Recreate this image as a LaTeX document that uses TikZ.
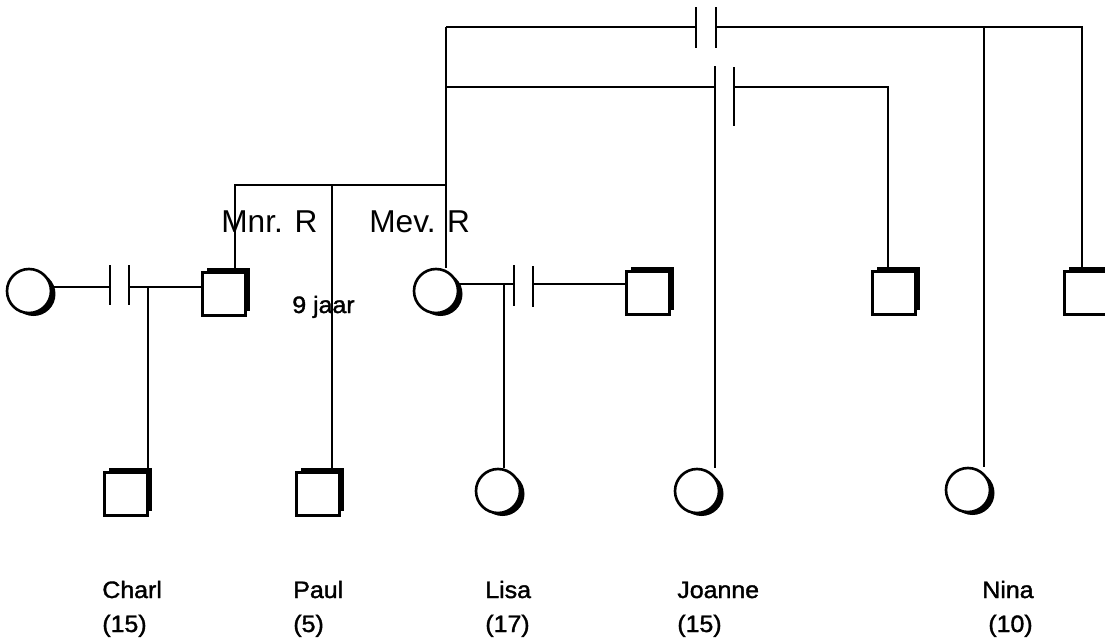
\documentclass[tikz,border=0pt]{standalone}
\usepackage{fontspec}
\setmainfont{Liberation Sans}
\newfontfamily\kidfont[FakeStretch=1.05, FakeBold=1.5]{Liberation Sans}
\usepackage{tikz}
\usetikzlibrary{shadows}
\tikzset{
    male_box/.style={
        rectangle, draw=black, fill=white, line width=1.3pt,
        minimum size=0.86cm, inner sep=0pt,
        drop shadow={fill=black, opacity=1, shadow xshift=0.09cm, shadow yshift=0.09cm}
    },
    female_disc/.style={
        circle, draw=black, fill=white, line width=1.5pt,
        minimum size=0.88cm, inner sep=0pt,
        drop shadow={fill=black, opacity=1, shadow xshift=0.09cm, shadow yshift=-0.06cm}
    },
    kin_line/.style={
        draw=black, line width=1.4pt
    },
    parent_lbl/.style={
        anchor=base west, inner sep=0pt, font=\fontsize{18}{22}\selectfont
    },
    kid_lbl/.style={
        anchor=base west, inner sep=0pt, font=\kidfont\fontsize{13.5}{16}\selectfont
    }
}
\begin{document}
\begin{tikzpicture}[x=0.02cm, y=-0.02cm]
    \useasboundingbox (0,0) rectangle (1105,643);

    % Row 1: parents and partners
    \node[female_disc] (ex_wife) at (29,291) {};
    \node[male_box] (mnr_r) at (224,294) {};
    \node[female_disc] (mev_r) at (436,291) {};
    \node[male_box] (ex_husband) at (648,293) {};
    \node[male_box] (partner_a) at (894,293) {};
    \node[male_box] (partner_b) at (1086,293) {};

    % Row 2: children
    \node[male_box] (charl) at (126,494) {};
    \node[male_box] (paul) at (318,494) {};
    \node[female_disc] (lisa) at (498,491) {};
    \node[female_disc] (joanne) at (697,491) {};
    \node[female_disc] (nina) at (968,490) {};

    % Junction points
    \coordinate (top_l) at (446,27);
    \coordinate (top_r) at (1082,27);
    \coordinate (mid_l) at (446,87);
    \coordinate (mid_r) at (888,87);
    \coordinate (sib_l) at (235,185);
    \coordinate (sib_r) at (446,185);
    \coordinate (paul_up) at (332,185);
    \coordinate (nina_up) at (984,27);
    \coordinate (joanne_up) at (715,66);
    \coordinate (bar1a) at (110,287);
    \coordinate (bar1b) at (129,287);
    \coordinate (charl_up) at (148,287);
    \coordinate (bar2a) at (514,284);
    \coordinate (bar2b) at (533,284);
    \coordinate (lisa_up) at (504,284);
    \coordinate (bar3a) at (696,27);
    \coordinate (bar3b) at (716,27);
    \coordinate (bar4b) at (734,87);

    % Left couple, divorced, with Charl
    \draw[kin_line] (ex_wife.east |- bar1a) -- (bar1a);
    \draw[kin_line] (bar1a) +(0,-22) -- +(0,18);
    \draw[kin_line] (bar1b) +(0,-22) -- +(0,18);
    \draw[kin_line] (bar1b) -- (mnr_r.west |- bar1b);
    \draw[kin_line] (charl_up) -- (charl_up |- charl.north);

    % Sibship of Mnr. R, Paul and Mev. R
    \draw[kin_line] (sib_l |- mnr_r.north) -- (sib_l) -- (sib_r);
    \draw[kin_line] (paul_up) -- (paul_up |- paul.north);
    \draw[kin_line] (top_l) -- (top_l |- mev_r.north);

    % Mev. R couple, divorced, with Lisa
    \draw[kin_line] (mev_r.east |- bar2a) -- (bar2a);
    \draw[kin_line] (bar2a) +(0,-19) -- +(0,22);
    \draw[kin_line] (bar2b) +(0,-18) -- +(0,23);
    \draw[kin_line] (bar2b) -- (ex_husband.west |- bar2b);
    \draw[kin_line] (lisa_up) -- (lisa_up |- lisa.north);

    % Upper line to partner b, with Nina
    \draw[kin_line] (top_l) -- (bar3a);
    \draw[kin_line] (bar3a) +(0,-20) -- +(0,21);
    \draw[kin_line] (bar3b) +(0,-20) -- +(0,21);
    \draw[kin_line] (bar3b) -- (top_r) -- (top_r |- partner_b.north);
    \draw[kin_line] (nina_up) -- (nina_up |- nina.north);

    % Second line to partner a, with Joanne
    \draw[kin_line] (mid_l) -- (mid_l -| joanne_up);
    \draw[kin_line] (joanne_up) -- (joanne_up |- joanne.north);
    \draw[kin_line] (bar4b) +(0,-20) -- +(0,39);
    \draw[kin_line] (bar4b) -- (mid_r) -- (mid_r |- partner_a.north);

    % Labels
    \node[parent_lbl] (lbl_mnr) at (221,232) {Mnr. R};
    \node[parent_lbl] (lbl_mev) at (369,232) {Mev. R};
    \node[kid_lbl] (lbl_gap) at (292,313) {9 jaar};

    \node[kid_lbl] (name_charl) at (102,598) {Charl};
    \node[kid_lbl] (name_paul) at (293,598) {Paul};
    \node[kid_lbl] (name_lisa) at (485,598) {Lisa};
    \node[kid_lbl] (name_joanne) at (677,598) {Joanne};
    \node[kid_lbl] (name_nina) at (982,598) {Nina};

    \node[kid_lbl] (age_charl) at (102,632) {(15)};
    \node[kid_lbl] (age_paul) at (293,632) {(5)};
    \node[kid_lbl] (age_lisa) at (485,632) {(17)};
    \node[kid_lbl] (age_joanne) at (677,632) {(15)};
    \node[kid_lbl] (age_nina) at (988,632) {(10)};
\end{tikzpicture}
\end{document}
